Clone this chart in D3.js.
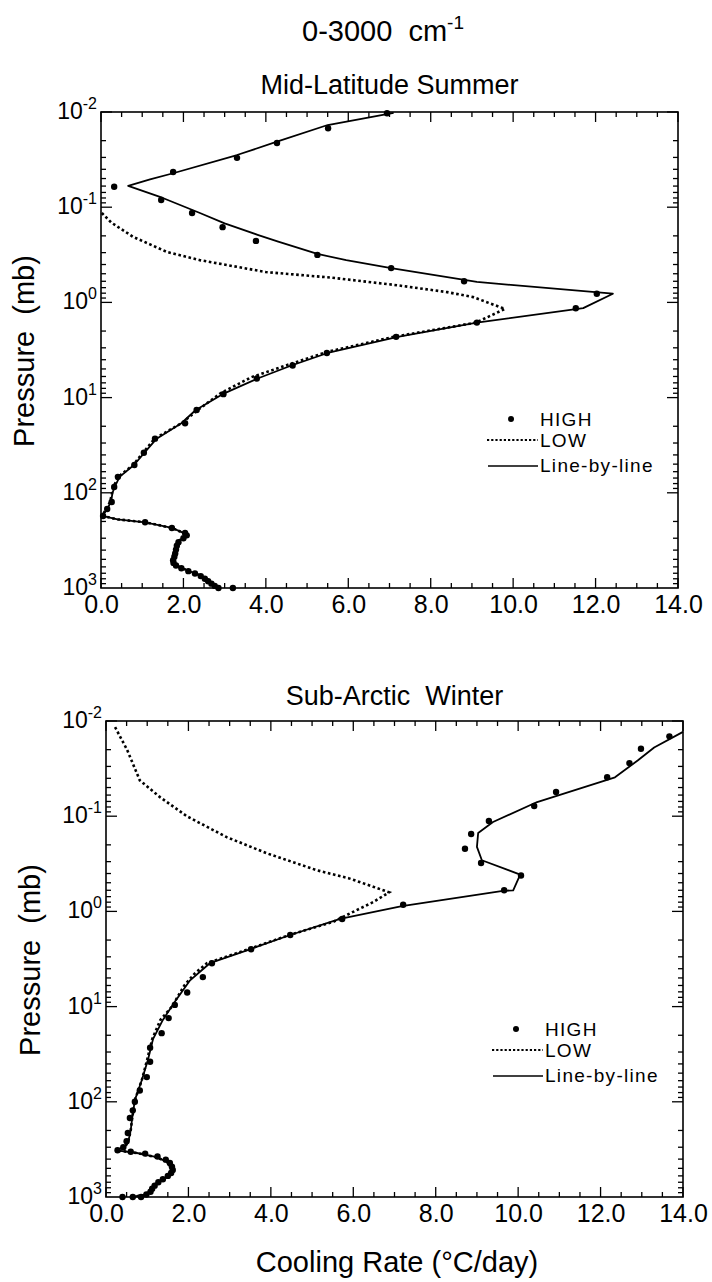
<!DOCTYPE html>
<html><head><meta charset="utf-8">
<script src="https://cdn.jsdelivr.net/npm/d3@7"></script>
<style>
html,body{margin:0;padding:0;background:#fff;}
svg{display:block;}
text{font-family:"Liberation Sans",Arial,sans-serif;fill:#000;white-space:pre;}
</style></head>
<body>
<svg id="chart" width="712" height="1282"></svg>
<script>
// ---------- DATA ([pressure mb, cooling rate °C/day]) ----------
const xTickValues = [0, 2, 4, 6, 8, 10, 12, 14];
const xTickLabels = ["0.0", "2.0", "4.0", "6.0", "8.0", "10.0", "12.0", "14.0"];
const yTickValues = [0.01, 0.1, 1, 10, 100, 1000];
const yTickExponents = ["-2", "-1", "0", "1", "2", "3"];
const legendLabels = ["HIGH", "LOW", "Line-by-line"];
const panelTitles = ["Mid-Latitude Summer", "Sub-Arctic  Winter"];

// Mid-Latitude Summer
const mlsLineByLine = [
  [0.0102,7.10],[0.0137,5.50],[0.0205,4.27],[0.0283,3.30],[0.044,1.75],[0.051,1.19],[0.0598,0.66],
  [0.080,1.50],[0.115,2.40],[0.148,3.00],[0.195,3.80],[0.23,4.30],[0.31,5.25],[0.36,5.95],
  [0.436,7.04],[0.61,9.12],[0.81,12.42],[1.15,11.70],[1.63,9.12],[2.3,7.20],[3.4,5.50],
  [4.6,4.62],[6.3,3.80],[9.2,2.95],[13.5,2.30],[18.6,1.95],[27,1.35],[38,1.05],[51,0.80],
  [68,0.45],[87,0.33],[100,0.28],[125,0.24],[148,0.15],[175,0.03],[190,0.40],[204,1.07],
  [234,1.72],[264,2.00],[290,2.05],[316,1.90],[371,1.83],[433,1.80],[510,1.75],[575,1.80],
  [650,2.08],[735,2.40],[870,2.62],[1000,2.85]
];
const mlsLow = [
  [0.115,0.02],[0.145,0.25],[0.205,0.78],[0.295,1.60],[0.36,2.40],[0.48,4.00],[0.55,5.60],
  [0.66,7.18],[0.78,8.40],[0.88,9.03],[1.17,9.80],[1.63,9.10],[2.3,7.10],[3.3,5.50],
  [4.5,4.55],[6.1,3.65],[9.0,2.90],[13.5,2.35],[18.6,1.95],[27,1.30],[38,1.02],[51,0.78],
  [68,0.42],[87,0.30],[125,0.22],[175,0.03],[190,0.40],[204,1.07],[234,1.72],[264,2.00],
  [290,2.05],[316,1.90],[371,1.83],[433,1.80],[510,1.75],[575,1.80],[650,2.08],[735,2.40],
  [870,2.62],[1000,2.85]
];
const mlsHigh = [
  [0.0103,6.94],[0.0148,5.51],[0.0212,4.27],[0.0303,3.30],[0.0427,1.75],[0.061,0.32],
  [0.084,1.46],[0.115,2.21],[0.162,2.95],[0.226,3.76],[0.317,5.25],[0.436,7.04],[0.60,8.81],
  [0.81,12.03],[1.15,11.52],[1.63,9.12],[2.3,7.16],[3.4,5.48],[4.6,4.65],[6.3,3.78],
  [9.2,2.97],[13.5,2.32],[18.6,2.04],[27,1.31],[38,1.04],[51,0.81],[68,0.41],[87,0.32],
  [125,0.26],[148,0.15],[175,0.05],[204,1.07],[234,1.72],[264,2.04],[280,2.08],[300,2.00],
  [330,1.88],[360,1.84],[395,1.82],[433,1.80],[470,1.78],[510,1.75],[545,1.76],[580,1.82],
  [620,1.95],[665,2.12],[705,2.28],[750,2.42],[800,2.52],[850,2.60],[900,2.68],[950,2.76],
  [1000,2.85],[1000,3.20]
];

// Sub-Arctic Winter
const sawLineByLine = [
  [0.013,14.0],[0.019,13.3],[0.026,12.9],[0.039,12.35],[0.071,10.46],[0.115,9.39],[0.15,9.03],
  [0.21,9.00],[0.29,9.12],[0.41,10.05],[0.60,9.88],[0.61,9.63],[0.88,7.18],[1.2,5.68],
  [1.77,4.47],[2.5,3.49],[3.5,2.52],[4.3,2.28],[5.3,2.04],[8.9,1.67],[13.8,1.38],[22,1.14],
  [36,1.02],[59,0.87],[96,0.70],[155,0.63],[199,0.60],[250,0.55],[290,0.48],[323,0.25],
  [345,0.75],[380,1.20],[420,1.45],[470,1.55],[545,1.62],[620,1.45],[715,1.23],[845,1.12],
  [950,0.95],[1000,0.63]
];
const sawLow = [
  [0.0116,0.22],[0.02,0.51],[0.042,0.82],[0.063,1.31],[0.10,1.96],[0.166,2.93],[0.245,3.90],
  [0.37,5.12],[0.45,5.90],[0.55,6.48],[0.63,6.87],[0.80,6.48],[1.05,5.92],[1.29,5.51],
  [1.77,4.45],[2.5,3.45],[3.5,2.45],[4.5,2.15],[6.0,1.90],[10,1.60],[13.8,1.32],[22,1.12],
  [36,1.00],[59,0.87],[96,0.70],[155,0.63],[199,0.60],[250,0.55],[290,0.48],[323,0.25],
  [345,0.75],[380,1.20],[420,1.45],[470,1.55],[545,1.62],[620,1.45],[715,1.23],[845,1.12],
  [950,0.95],[1000,0.63]
];
const sawHigh = [
  [0.0145,13.67],[0.0196,12.98],[0.0277,12.70],[0.039,12.16],[0.0556,10.92],[0.078,10.39],
  [0.112,9.29],[0.154,8.86],[0.22,8.71],[0.31,9.10],[0.42,10.07],[0.60,9.66],[0.85,7.21],
  [1.2,5.73],[1.77,4.47],[2.5,3.52],[3.5,2.57],[4.9,2.35],[7.1,1.97],[9.6,1.67],[13.2,1.52],
  [19,1.35],[27,1.07],[38,1.07],[55,0.99],[76,0.82],[100,0.70],[123,0.65],[148,0.58],
  [213,0.53],[260,0.50],[300,0.42],[323,0.28],[335,0.60],[350,0.95],[375,1.25],[405,1.45],
  [440,1.55],[480,1.60],[520,1.62],[560,1.58],[600,1.50],[650,1.38],[700,1.27],[760,1.18],
  [820,1.12],[880,1.08],[940,0.98],[1000,0.85],[1000,0.65],[1000,0.40]
];

// ---------- DRAW ----------
const svg = d3.select("#chart");

// Main title
const t = svg.append("text").attr("x", 383).attr("y", 41).attr("text-anchor", "middle")
  .style("font-size", "29px");
t.append("tspan").text("0-3000  cm");
t.append("tspan").attr("dy", -12).style("font-size", "19px").text("-1");

// x-axis title
svg.append("text").attr("x", 397).attr("y", 1272).attr("text-anchor", "middle")
  .style("font-size", "29px").text("Cooling Rate (°C/day)");

function panel(cfg) {
  const {left, top, width, height, title, lbl, low, high, legend, ytitleX} = cfg;
  const x = d3.scaleLinear().domain([0, 14]).range([left, left + width]);
  const y = d3.scaleLog().domain([0.01, 1000]).range([top, top + height]);
  const g = svg.append("g");

  // panel title
  g.append("text").attr("x", left + width / 2).attr("y", cfg.titleY).attr("text-anchor", "middle")
    .style("font-size", "27px").text(title);

  // frame
  g.append("rect").attr("x", left).attr("y", top).attr("width", width).attr("height", height)
    .attr("fill", "none").attr("stroke", "#000").attr("stroke-width", 1.6);

  // x ticks (inward, top & bottom)
  const xMinor = d3.range(0, 14.01, 0.5);
  xMinor.forEach(v => {
    const major = Math.abs(v % 2) < 1e-9;
    const L = major ? 10 : 5;
    g.append("line").attr("x1", x(v)).attr("x2", x(v)).attr("y1", top + height).attr("y2", top + height - L)
      .attr("stroke", "#000").attr("stroke-width", 1.3);
    g.append("line").attr("x1", x(v)).attr("x2", x(v)).attr("y1", top).attr("y2", top + L)
      .attr("stroke", "#000").attr("stroke-width", 1.3);
  });
  // x tick labels via axis
  const xAxis = d3.axisBottom(x).tickValues(xTickValues).tickSize(0).tickPadding(0)
    .tickFormat((d, i) => xTickLabels[i]);
  const xa = g.append("g").attr("transform", `translate(0,${top + height})`).call(xAxis);
  xa.select(".domain").remove();
  xa.selectAll("text").attr("dy", null).attr("y", 25).style("font-size", "25px")
    .style("font-family", '"Liberation Sans",Arial,sans-serif').attr("fill", "#000");

  // y ticks
  for (let e = -2; e < 3; e++) {
    for (let m = 1; m <= 9; m++) {
      const v = m * Math.pow(10, e);
      const L = m === 1 ? 11 : 5;
      g.append("line").attr("x1", left).attr("x2", left + L).attr("y1", y(v)).attr("y2", y(v))
        .attr("stroke", "#000").attr("stroke-width", 1.3);
      g.append("line").attr("x1", left + width).attr("x2", left + width - L).attr("y1", y(v)).attr("y2", y(v))
        .attr("stroke", "#000").attr("stroke-width", 1.3);
    }
  }
  // y tick labels
  yTickValues.forEach((v, i) => {
    const tx = g.append("text").attr("x", left - 4).attr("y", y(v) + 7).attr("text-anchor", "end")
      .style("font-size", "23px");
    tx.append("tspan").text("10");
    tx.append("tspan").attr("dy", -10).style("font-size", "16px").text(yTickExponents[i]);
  });

  // y title
  g.append("text").attr("transform", `translate(${ytitleX},${top + height / 2 + 1}) rotate(-90)`)
    .attr("text-anchor", "middle").style("font-size", "29px").text("Pressure  (mb)");

  const line = d3.line().x(d => x(d[1])).y(d => y(d[0]));
  // LOW dotted
  g.append("path").datum(low).attr("d", line).attr("fill", "none").attr("stroke", "#000")
    .attr("stroke-width", 2.6).attr("stroke-dasharray", "2.6,2.6");
  // Line-by-line solid
  g.append("path").datum(lbl).attr("d", line).attr("fill", "none").attr("stroke", "#000")
    .attr("stroke-width", 1.8).attr("stroke-linejoin", "round");
  // HIGH dots
  g.selectAll("circle.high").data(high).enter().append("circle").attr("class", "high")
    .attr("cx", d => x(d[1])).attr("cy", d => y(d[0])).attr("r", 3.2).attr("fill", "#000");

  // legend
  const lg = legend;
  g.append("circle").attr("cx", lg.x0 + 24).attr("cy", lg.y0 - 7).attr("r", 3).attr("fill", "#000");
  g.append("line").attr("x1", lg.x0).attr("x2", lg.x0 + 51).attr("y1", lg.y0 + 14).attr("y2", lg.y0 + 14)
    .attr("stroke", "#000").attr("stroke-width", 2.2).attr("stroke-dasharray", "2.2,2");
  g.append("line").attr("x1", lg.x0 + 1).attr("x2", lg.x0 + 51).attr("y1", lg.y0 + 40).attr("y2", lg.y0 + 40)
    .attr("stroke", "#000").attr("stroke-width", 1.5);
  legendLabels.forEach((s, i) => {
    g.append("text").attr("x", lg.x0 + 53).attr("y", lg.y0 + [0, 21, 46][i])
      .style("font-size", "19px").style("letter-spacing", "1.3px").text(s);
  });
}

panel({left: 101, top: 112, width: 577, height: 476, title: panelTitles[0], titleY: 94,
  lbl: mlsLineByLine, low: mlsLow, high: mlsHigh, legend: {x0: 487, y0: 426}, ytitleX: 34});
panel({left: 106, top: 721, width: 577, height: 476, title: panelTitles[1], titleY: 705,
  lbl: sawLineByLine, low: sawLow, high: sawHigh, legend: {x0: 492, y0: 1036}, ytitleX: 40});
</script>
</body></html>
